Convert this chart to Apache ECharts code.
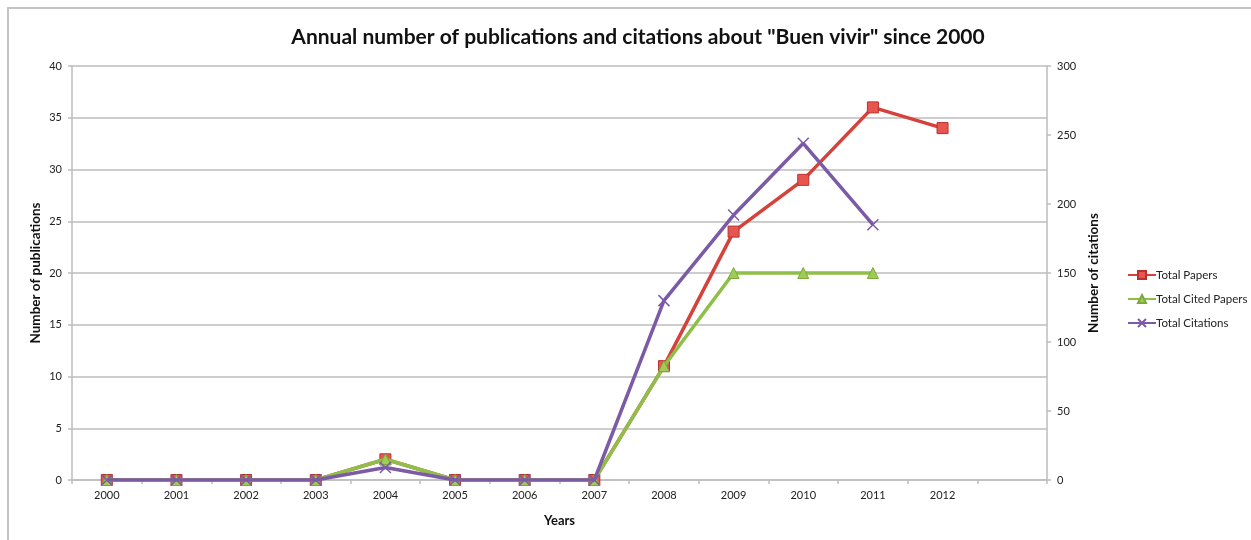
<!DOCTYPE html>
<html>
<head>
<meta charset="utf-8">
<title>Buen vivir publications and citations</title>
<script src="https://cdn.jsdelivr.net/npm/echarts@6/dist/echarts.min.js"></script>
<style>
  html, body { margin: 0; padding: 0; background: #ffffff; }
  #chart { width: 1251px; height: 540px; }
</style>
</head>
<body>
<div id="chart"></div>
<script>
// Years on the category axis (the last slot is left empty)
const years = ['2000', '2001', '2002', '2003', '2004', '2005', '2006', '2007', '2008', '2009', '2010', '2011', '2012', ''];

// Publications per year (left axis)
const totalPapers = [0, 0, 0, 0, 2, 0, 0, 0, 11, 24, 29, 36, 34];
const totalCitedPapers = [0, 0, 0, 0, 2, 0, 0, 0, 11, 20, 20, 20];

// Citations per year (right axis)
const totalCitations = [0, 0, 0, 0, 9, 0, 0, 0, 130, 192, 244, 185];

// Axis ranges
const leftTicks = { min: 0, max: 40, interval: 5 };
const rightTicks = { min: 0, max: 300, interval: 50 };

const FONT = 'Lato, "Open Sans", sans-serif';
const GRID_GRAY = '#bdbdbd';
const RED = '#d5413b';
const GREEN = '#8fbf49';
const PURPLE = '#7b5aa6';
const CROSS = 'path://M0,0L10,10M10,0L0,10';

const chart = echarts.init(document.getElementById('chart'), null, { renderer: 'canvas' });

const axisCommon = {
  axisLine: { show: true, lineStyle: { color: GRID_GRAY, width: 1.5 } },
  axisTick: { show: true, length: 4, lineStyle: { color: GRID_GRAY, width: 1.5 } },
  axisLabel: { color: '#222', fontFamily: FONT, fontSize: 11 },
  nameTextStyle: { color: '#111', fontFamily: FONT, fontSize: 13.5, fontWeight: 'bold' }
};

chart.setOption({
  backgroundColor: '#ffffff',
  animation: false,
  graphic: [{
    type: 'polyline',
    shape: { points: [[8, 540], [8, 8], [1251, 8]] },
    style: { stroke: '#c4c4c4', lineWidth: 2, fill: null },
    silent: true
  }],
  title: {
    text: 'Annual number of publications and citations about "Buen vivir" since 2000',
    left: 633,
    textAlign: 'center',
    top: 22,
    textStyle: { fontFamily: FONT, fontSize: 21, fontWeight: 'bold', color: '#111' }
  },
  legend: {
    orient: 'vertical',
    left: 1122,
    top: 264,
    itemWidth: 28,
    itemHeight: 10,
    itemGap: 12,
    textStyle: { fontFamily: FONT, fontSize: 11.5, color: '#222', padding: [0, 0, 0, -5] },
    data: ['Total Papers', 'Total Cited Papers', 'Total Citations']
  },
  grid: { left: 72, right: 204, top: 66, bottom: 60, containLabel: false },
  xAxis: {
    type: 'category',
    data: years,
    boundaryGap: true,
    name: 'Years',
    nameLocation: 'middle',
    nameGap: 34,
    ...axisCommon,
    nameTextStyle: { ...axisCommon.nameTextStyle, fontSize: 13 },
    axisTick: { show: true, alignWithLabel: false, length: 4, interval: 0, lineStyle: { color: GRID_GRAY, width: 1.5 } },
    axisLabel: { ...axisCommon.axisLabel, interval: 0, margin: 10 },
    splitLine: { show: false }
  },
  yAxis: [{
    type: 'value',
    position: 'left',
    ...leftTicks,
    name: 'Number of publications',
    nameLocation: 'middle',
    nameGap: 29,
    nameMoveOverlap: false,
    nameRotate: 90,
    ...axisCommon,
    axisLabel: { ...axisCommon.axisLabel, margin: 10 },
    splitLine: { show: true, lineStyle: { color: GRID_GRAY, width: 1.5 } }
  }, {
    type: 'value',
    position: 'right',
    ...rightTicks,
    name: 'Number of citations',
    nameLocation: 'middle',
    nameGap: 40,
    nameRotate: 90,
    ...axisCommon,
    axisLabel: { ...axisCommon.axisLabel, margin: 10 },
    splitLine: { show: false }
  }],
  series: [{
    name: 'Total Papers',
    type: 'line',
    yAxisIndex: 0,
    data: totalPapers,
    symbol: 'rect',
    symbolSize: 11,
    lineStyle: { color: RED, width: 3.5 },
    itemStyle: { color: '#e8554f', borderColor: '#b8322d', borderWidth: 1 },
    z: 2
  }, {
    name: 'Total Cited Papers',
    type: 'line',
    yAxisIndex: 0,
    data: totalCitedPapers,
    symbol: 'triangle',
    symbolSize: 11,
    lineStyle: { color: GREEN, width: 3.5 },
    itemStyle: { color: '#9fcc55', borderColor: '#7aa83a', borderWidth: 1 },
    z: 3
  }, {
    name: 'Total Citations',
    type: 'line',
    yAxisIndex: 1,
    data: totalCitations,
    symbol: CROSS,
    symbolSize: 11,
    lineStyle: { color: PURPLE, width: 3.5 },
    itemStyle: { color: PURPLE, borderColor: PURPLE, borderWidth: 1.5 },
    z: 4
  }]
});
</script>
</body>
</html>
